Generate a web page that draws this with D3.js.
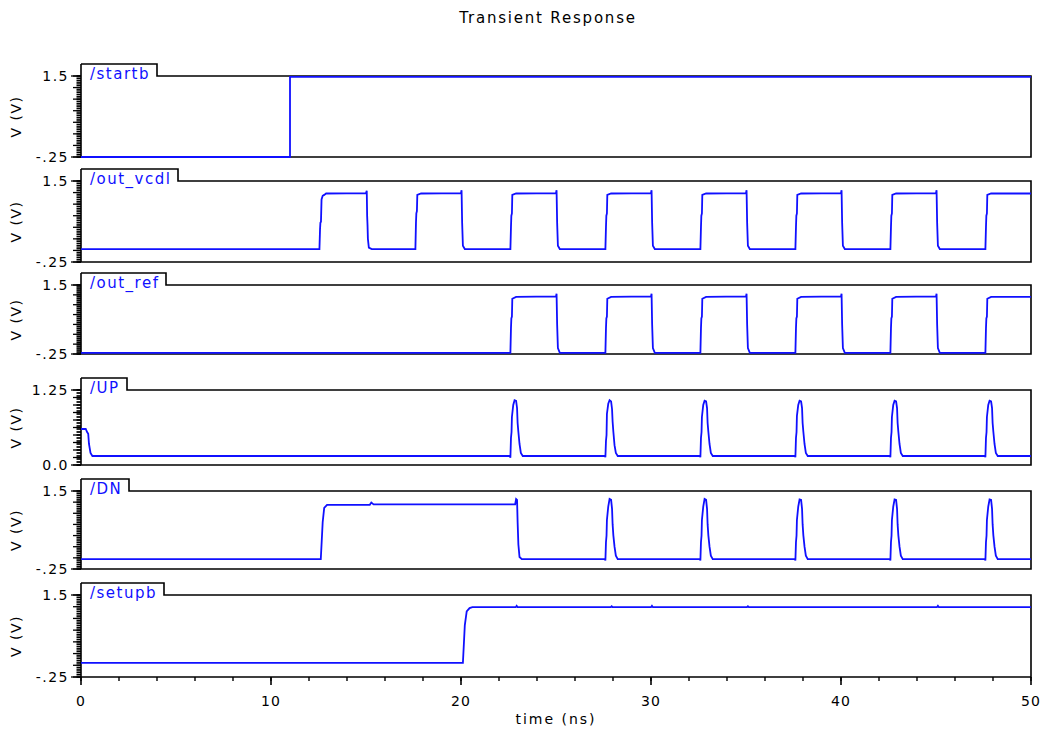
<!DOCTYPE html>
<html><head><meta charset="utf-8">
<script src="https://cdn.jsdelivr.net/npm/d3@7"></script>
<style>body{margin:0;background:#fff}</style>
</head><body>
<svg id="chart" width="1043" height="731"></svg>
<script>
// ---------------- DATA ----------------
const chartTitle = "Transient Response";
const xLabel = "time (ns)";
const yLabel = "V (V)";
const xDomain = [0, 50];
const xTickValues = [0, 10, 20, 30, 40, 50];
const signalNames = ["/startb", "/out_vcdl", "/out_ref", "/UP", "/DN", "/setupb"];
const yMin = [-0.25, -0.25, -0.25, 0, -0.25, -0.25];
const yMax = [1.5, 1.5, 1.5, 1.25, 1.5, 1.5];
const yTopLabels = ["1.5", "1.5", "1.5", "1.25", "1.5", "1.5"];
const yBottomLabels = ["-.25", "-.25", "-.25", "0.0", "-.25", "-.25"];

const startb = [[0,-0.25],[11.0,-0.25],[11.0,1.48],[50,1.48]];

const out_vcdl = [
 [0,0.03],[12.55,0.03],[12.58,0.45],[12.6,0.6],[12.63,0.62],[12.66,1.1],[12.72,1.18],[12.8,1.2],[12.9,1.23],
 [15.0,1.24],[15.04,1.29],[15.06,0.75],[15.08,0.55],[15.1,0.25],[15.15,0.06],[15.3,0.03],
 [17.6,0.03],[17.63,0.6],[17.65,0.8],[17.68,0.85],[17.7,1.2],[17.9,1.23],
 [20.0,1.24],[20.03,1.3],[20.06,0.6],[20.08,0.35],[20.1,0.1],[20.2,0.03],
 [22.6,0.03],[22.63,0.5],[22.65,0.75],[22.68,0.8],[22.7,1.2],[22.9,1.23],
 [25.0,1.24],[25.03,1.3],[25.06,0.6],[25.08,0.35],[25.1,0.1],[25.2,0.03],
 [27.6,0.03],[27.63,0.5],[27.65,0.75],[27.68,0.8],[27.7,1.2],[27.9,1.23],
 [30.0,1.24],[30.03,1.3],[30.06,0.6],[30.08,0.35],[30.1,0.1],[30.2,0.03],
 [32.6,0.03],[32.63,0.5],[32.65,0.75],[32.68,0.8],[32.7,1.2],[32.9,1.23],
 [35.0,1.24],[35.03,1.3],[35.06,0.6],[35.08,0.35],[35.1,0.1],[35.2,0.03],
 [37.6,0.03],[37.63,0.5],[37.65,0.75],[37.68,0.8],[37.7,1.2],[37.9,1.23],
 [40.0,1.24],[40.03,1.3],[40.06,0.6],[40.08,0.35],[40.1,0.1],[40.2,0.03],
 [42.6,0.03],[42.63,0.5],[42.65,0.75],[42.68,0.8],[42.7,1.2],[42.9,1.23],
 [45.0,1.24],[45.03,1.3],[45.06,0.6],[45.08,0.35],[45.1,0.1],[45.2,0.03],
 [47.6,0.03],[47.63,0.5],[47.65,0.75],[47.68,0.8],[47.7,1.2],[47.9,1.23],
 [50,1.23]
];

const out_ref = [
 [0,-0.22],[22.6,-0.22],[22.63,0.4],[22.65,0.65],[22.68,0.7],[22.7,1.15],[22.9,1.2],
 [25.0,1.21],[25.03,1.28],[25.06,0.5],[25.08,0.2],[25.1,-0.1],[25.2,-0.22],
 [27.6,-0.22],[27.63,0.4],[27.65,0.65],[27.68,0.7],[27.7,1.15],[27.9,1.2],
 [30.0,1.21],[30.03,1.28],[30.06,0.5],[30.08,0.2],[30.1,-0.1],[30.2,-0.22],
 [32.6,-0.22],[32.63,0.4],[32.65,0.65],[32.68,0.7],[32.7,1.15],[32.9,1.2],
 [35.0,1.21],[35.03,1.28],[35.06,0.5],[35.08,0.2],[35.1,-0.1],[35.2,-0.22],
 [37.6,-0.22],[37.63,0.4],[37.65,0.65],[37.68,0.7],[37.7,1.15],[37.9,1.2],
 [40.0,1.21],[40.03,1.28],[40.06,0.5],[40.08,0.2],[40.1,-0.1],[40.2,-0.22],
 [42.6,-0.22],[42.63,0.4],[42.65,0.65],[42.68,0.7],[42.7,1.15],[42.9,1.2],
 [45.0,1.21],[45.03,1.28],[45.06,0.5],[45.08,0.2],[45.1,-0.1],[45.2,-0.22],
 [47.6,-0.22],[47.63,0.4],[47.65,0.65],[47.68,0.7],[47.7,1.15],[47.9,1.2],
 [50,1.2]
];

const UP = [
 [0,0.6],[0.25,0.6],[0.32,0.55],[0.38,0.52],[0.42,0.35],[0.5,0.2],[0.6,0.15],
 [22.58,0.15],[22.6,0.12],[22.63,0.45],[22.66,0.55],[22.68,0.8],[22.75,1.0],[22.82,1.08],[22.9,1.07],[22.95,0.95],[22.98,0.7],[23.02,0.55],[23.08,0.35],[23.15,0.2],[23.25,0.15],
 [27.58,0.15],[27.6,0.13],[27.63,0.4],[27.66,0.5],[27.68,0.85],[27.75,1.02],[27.82,1.08],[27.9,1.06],[27.95,0.93],[27.98,0.72],[28.02,0.55],[28.08,0.33],[28.15,0.2],[28.25,0.15],
 [32.58,0.15],[32.6,0.13],[32.63,0.45],[32.66,0.55],[32.68,0.8],[32.75,1.0],[32.82,1.07],[32.9,1.06],[32.95,0.95],[32.98,0.7],[33.02,0.55],[33.08,0.35],[33.15,0.2],[33.25,0.15],
 [37.58,0.15],[37.6,0.13],[37.63,0.45],[37.66,0.55],[37.68,0.82],[37.75,1.0],[37.82,1.07],[37.9,1.06],[37.95,0.95],[37.98,0.7],[38.02,0.55],[38.08,0.35],[38.15,0.2],[38.25,0.15],
 [42.58,0.15],[42.6,0.13],[42.63,0.45],[42.66,0.55],[42.68,0.8],[42.75,1.0],[42.82,1.07],[42.9,1.06],[42.95,0.95],[42.98,0.7],[43.02,0.55],[43.08,0.35],[43.15,0.2],[43.25,0.15],
 [47.58,0.15],[47.6,0.13],[47.63,0.45],[47.66,0.55],[47.68,0.8],[47.75,1.0],[47.82,1.07],[47.9,1.06],[47.95,0.95],[47.98,0.7],[48.02,0.55],[48.08,0.35],[48.15,0.2],[48.25,0.15],
 [50,0.15]
];

const DN = [
 [0,-0.03],[12.62,-0.03],[12.66,0.3],[12.72,0.8],[12.8,1.12],[12.95,1.19],
 [15.2,1.19],[15.28,1.24],[15.4,1.2],[22.85,1.2],[22.9,1.32],[22.95,1.3],[22.98,0.8],[23.02,0.3],[23.08,0.02],[23.2,-0.03],
 [27.58,-0.03],[27.6,-0.06],[27.63,0.35],[27.66,0.5],[27.68,0.85],[27.75,1.15],[27.82,1.32],[27.9,1.3],[27.95,1.1],[27.98,0.75],[28.02,0.5],[28.08,0.25],[28.15,0.05],[28.25,-0.03],
 [32.58,-0.03],[32.6,-0.06],[32.63,0.35],[32.66,0.5],[32.68,0.85],[32.75,1.15],[32.82,1.32],[32.9,1.3],[32.95,1.1],[32.98,0.75],[33.02,0.5],[33.08,0.25],[33.15,0.05],[33.25,-0.03],
 [37.58,-0.03],[37.6,-0.06],[37.63,0.35],[37.66,0.5],[37.68,0.85],[37.75,1.15],[37.82,1.31],[37.9,1.3],[37.95,1.1],[37.98,0.75],[38.02,0.5],[38.08,0.25],[38.15,0.05],[38.25,-0.03],
 [42.58,-0.03],[42.6,-0.06],[42.63,0.35],[42.66,0.5],[42.68,0.85],[42.75,1.15],[42.82,1.31],[42.9,1.3],[42.95,1.1],[42.98,0.75],[43.02,0.5],[43.08,0.25],[43.15,0.05],[43.25,-0.03],
 [47.58,-0.03],[47.6,-0.06],[47.63,0.35],[47.66,0.5],[47.68,0.85],[47.75,1.15],[47.82,1.31],[47.9,1.3],[47.95,1.1],[47.98,0.75],[48.02,0.5],[48.08,0.25],[48.15,0.05],[48.25,-0.03],
 [50,-0.03]
];

const setupb = [
 [0,0.05],[20.1,0.05],[20.15,0.45],[20.2,0.85],[20.3,1.15],[20.45,1.22],[20.6,1.24],
 [22.88,1.24],[22.93,1.27],[22.98,1.24],[27.88,1.24],[27.93,1.26],[27.98,1.24],
 [30.0,1.24],[30.05,1.27],[30.1,1.24],[35.05,1.24],[35.1,1.26],[35.15,1.24],
 [45.05,1.24],[45.1,1.27],[45.15,1.24],[50,1.24]
];

const signals = [startb, out_vcdl, out_ref, UP, DN, setupb];

// ---------------- LAYOUT ----------------
const W = 1043, H = 731;
const left = 81, right = 1031;
const panelTop = [76, 181, 285, 390, 491, 595];
const panelBottom = [157, 262, 354, 465, 569, 677];
const tabH = 12;
const lineColor = "#1010ff";

const svg = d3.select("#chart");
svg.append("rect").attr("width", W).attr("height", H).attr("fill", "#fff");

const x = d3.scaleLinear().domain(xDomain).range([left, right]);

svg.append("text").attr("x", 548).attr("y", 23).attr("text-anchor", "middle")
  .attr("font-family", "DejaVu Sans").attr("font-size", 15).attr("letter-spacing", 1.8)
  .attr("fill", "#000").text(chartTitle);

signals.forEach((data, i) => {
  const top = panelTop[i], bot = panelBottom[i];
  const y = d3.scaleLinear().domain([yMin[i], yMax[i]]).range([bot, top]);
  const g = svg.append("g");

  const label = g.append("text").attr("x", 90).attr("y", top + 3)
    .attr("font-family", "DejaVu Sans").attr("font-size", 15).attr("letter-spacing", 1.5)
    .attr("fill", lineColor).text(signalNames[i]);
  const tw = label.node().getComputedTextLength();
  const tabRight = Math.round(90 + tw + 7);

  g.insert("path", "text")
    .attr("d", `M${left},${top - tabH}L${tabRight},${top - tabH}L${tabRight},${top}L${right},${top}L${right},${bot}L${left},${bot}`)
    .attr("fill", "none").attr("stroke", "#000").attr("stroke-width", 1.6);

  g.append("line").attr("x1", left).attr("x2", left).attr("y1", top - tabH).attr("y2", bot)
    .attr("stroke", "#000").attr("stroke-width", 1.6);

  const span = yMax[i] - yMin[i];
  const midStep = (i === 3) ? 0.125 : 0.25;
  const minorStep = 0.05;
  const minorTicks = d3.range(0, Math.round(span / minorStep) + 1).map(k => yMin[i] + k * minorStep);
  const midTicks = d3.range(0, Math.round(span / midStep) + 1).map(k => yMin[i] + k * midStep);
  g.selectAll(".mn").data(minorTicks).join("line")
    .attr("x1", left - 4.5).attr("x2", left).attr("y1", d => y(d)).attr("y2", d => y(d))
    .attr("stroke", "#000").attr("stroke-width", 1.7);
  g.selectAll(".md").data(midTicks).join("line")
    .attr("x1", left - 8).attr("x2", left).attr("y1", d => y(d)).attr("y2", d => y(d))
    .attr("stroke", "#000").attr("stroke-width", 1.3);
  [yMin[i], yMax[i]].forEach(v => {
    g.append("line").attr("x1", left - 10).attr("x2", left).attr("y1", y(v)).attr("y2", y(v))
      .attr("stroke", "#000").attr("stroke-width", 1.3);
  });
  g.append("text").attr("x", 69).attr("y", y(yMax[i]) + 5).attr("text-anchor", "end")
    .attr("font-family", "DejaVu Sans").attr("font-size", 14).attr("letter-spacing", 1.5)
    .attr("fill", "#000").text(yTopLabels[i]);
  g.append("text").attr("x", 69).attr("y", y(yMin[i]) + 5).attr("text-anchor", "end")
    .attr("font-family", "DejaVu Sans").attr("font-size", 14).attr("letter-spacing", 1.5)
    .attr("fill", "#000").text(yBottomLabels[i]);

  const cy = (top + bot) / 2;
  g.append("text").attr("transform", `translate(21,${cy}) rotate(-90)`).attr("text-anchor", "middle")
    .attr("font-family", "DejaVu Sans").attr("font-size", 14).attr("letter-spacing", 1.5)
    .attr("fill", "#000").text(yLabel);

  const line = d3.line().x(d => x(d[0])).y(d => y(d[1]));
  g.append("path").datum(data).attr("d", line)
    .attr("fill", "none").attr("stroke", lineColor).attr("stroke-width", 1.8)
    .attr("stroke-linejoin", "miter");

  label.raise();
});

const xb = panelBottom[panelBottom.length - 1];
const minorX = d3.range(0, 26).map(k => k * 2);
svg.selectAll(".xm").data(minorX).join("line")
  .attr("x1", d => x(d)).attr("x2", d => x(d)).attr("y1", xb).attr("y2", xb + 4)
  .attr("stroke", "#000").attr("stroke-width", 1.4);
svg.selectAll(".xM").data(xTickValues).join("line")
  .attr("x1", d => x(d)).attr("x2", d => x(d)).attr("y1", xb).attr("y2", xb + 8)
  .attr("stroke", "#000").attr("stroke-width", 1.6);
svg.selectAll(".xl").data(xTickValues).join("text")
  .attr("x", d => x(d)).attr("y", xb + 29).attr("text-anchor", "middle")
  .attr("font-family", "DejaVu Sans").attr("font-size", 14).attr("letter-spacing", 1)
  .attr("fill", "#000").text(d => d);
svg.append("text").attr("x", 556).attr("y", 724).attr("text-anchor", "middle")
  .attr("font-family", "DejaVu Sans").attr("font-size", 14).attr("letter-spacing", 2)
  .attr("fill", "#000").text(xLabel);
</script>
</body></html>
